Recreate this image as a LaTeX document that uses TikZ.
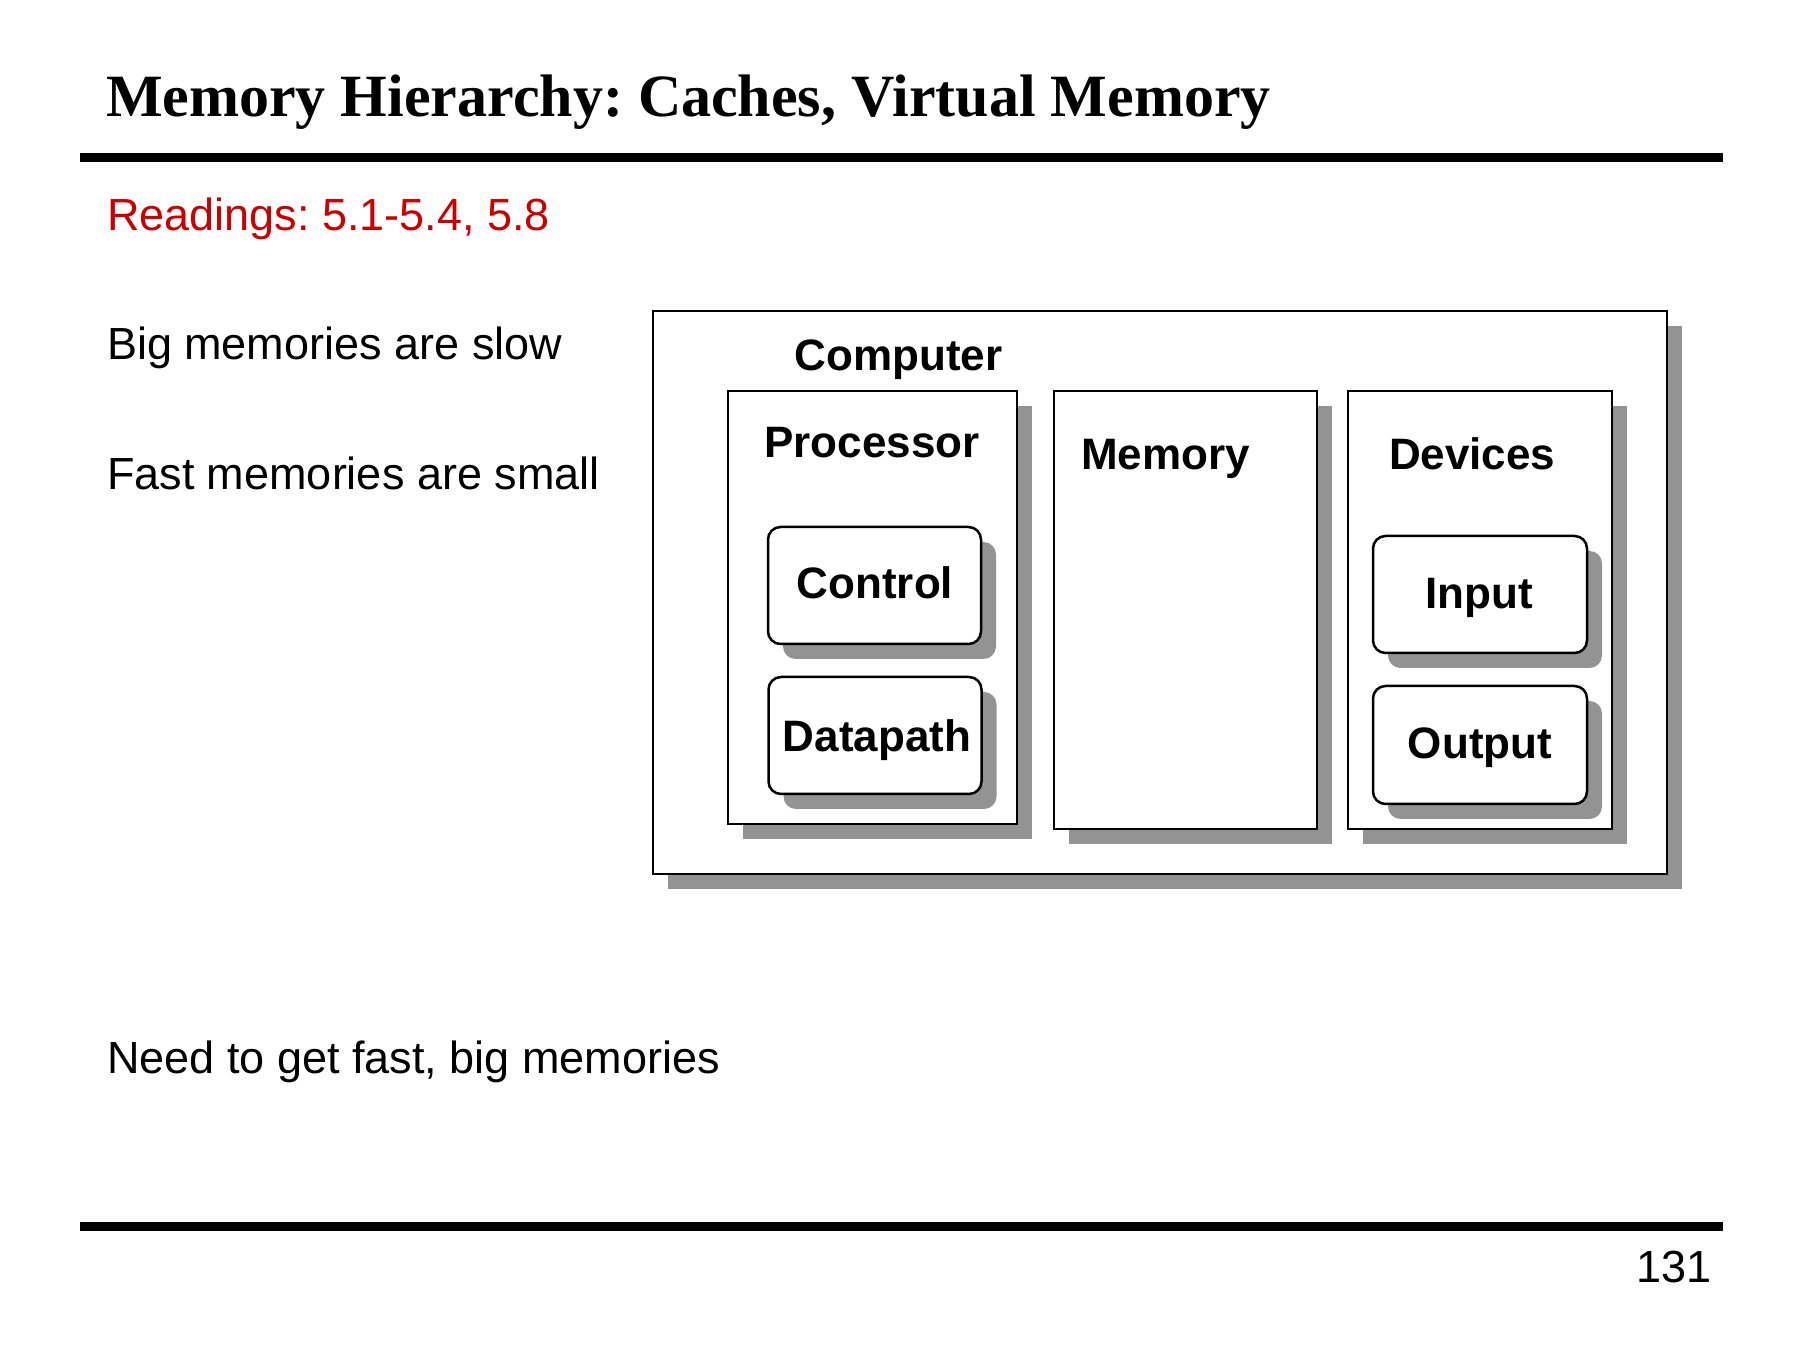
\documentclass[tikz,border=0pt]{standalone}
\usepackage{fontspec}
\setmainfont{Liberation Sans}
\newfontfamily\titlefont{Liberation Serif}
\usetikzlibrary{shadows}
\definecolor{readred}{RGB}{204,0,0}
\definecolor{shgray}{RGB}{147,147,147}
\frenchspacing
\begin{document}
\begin{tikzpicture}[x=0.4pt,y=-0.4pt,
  every node/.style={inner sep=0pt, outer sep=0pt},
  sbox/.style={draw=black, line width=1pt, fill=white,
    drop shadow={shadow xshift=6pt, shadow yshift=-6pt, fill=shgray, opacity=1}},
  rbox/.style={sbox, rounded corners=5pt},
  boxsize/.style 2 args={minimum width=#1*0.4pt, minimum height=#2*0.4pt},
  rulebar/.style={line width=3.6pt},
  body/.style={font=\fontsize{18pt}{21pt}\selectfont, anchor=base west},
  lbl/.style={font=\bfseries\fontsize{17.6pt}{21pt}\selectfont, anchor=base},
  lblw/.style={lbl, anchor=base west},
]
\fill[white] (0,0) rectangle (1800,1350);
\useasboundingbox (0,0) rectangle (1800,1350);

% title and rules
\node[anchor=base west, font=\titlefont\bfseries\fontsize{24pt}{28pt}\selectfont] (title) at (106,117) {Memory Hierarchy: Caches, Virtual Memory};
\coordinate (r1a) at (80,157.5);
\coordinate (r1b) at (1723,157.5);
\draw[rulebar] (r1a) -- (r1b);
\coordinate (r2a) at (80,1226.5);
\coordinate (r2b) at (1723,1226.5);
\draw[rulebar] (r2a) -- (r2b);

% left text
\node[body, text=readred] (readings) at (107,231) {Readings: 5.1-5.4, 5.8};
\node[body] (big) at (107,360) {Big memories are slow};
\node[body] (fast) at (107,490) {Fast memories are small};
\node[body] (need) at (107,1073) {Need to get fast, big memories};
\node[font=\fontsize{18pt}{21pt}\selectfont, anchor=base east] (page) at (1712,1282) {131};

% boxes
\node[sbox, boxsize={1014}{563}] (computer) at (1160,592.5) {};
\node[sbox, boxsize={289}{433}] (processor) at (872.5,607.5) {};
\node[sbox, boxsize={263}{438}] (memory) at (1185.5,610) {};
\node[sbox, boxsize={264}{438}] (devices) at (1480,610) {};
\node[rbox, boxsize={213}{117}] (control) at (874.5,585.5) {};
\node[rbox, boxsize={213}{117}] (datapath) at (875,735.5) {};
\node[rbox, boxsize={214}{117}] (input) at (1480,594.5) {};
\node[rbox, boxsize={214}{118}] (output) at (1480,745) {};

% labels
\node[lbl] (computerT) at (898.5,371) {Computer};
\node[lbl] (processorT) at (872,458) {Processor};
\node[lblw] (memoryT) at (1081,470) {Memory};
\node[lblw] (devicesT) at (1389,470) {Devices};
\node[lbl] (controlT) at (875,599) {Control};
\node[lbl] (datapathT) at (877,752) {Datapath};
\node[lbl] (inputT) at (1479,609) {Input};
\node[lbl] (outputT) at (1480,758) {Output};
\end{tikzpicture}
\end{document}
